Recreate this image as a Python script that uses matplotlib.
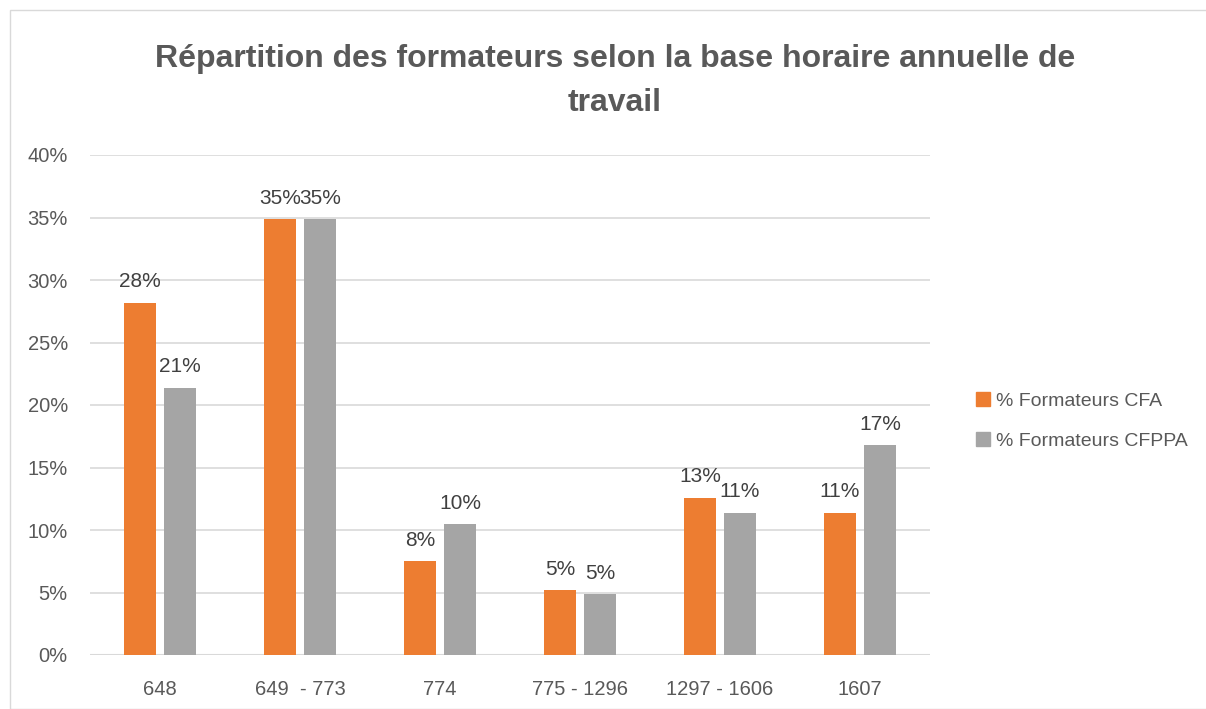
import matplotlib.pyplot as plt
import matplotlib.ticker as ticker
from matplotlib.patches import Rectangle, Patch
import numpy as np

categories = ["648", "649  - 773", "774", "775 - 1296", "1297 - 1606", "1607"]
cfa = [28.2, 34.9, 7.5, 5.2, 12.6, 11.4]
cfppa = [21.4, 34.9, 10.5, 4.9, 11.4, 16.8]
cfa_labels = ["28%", "35%", "8%", "5%", "13%", "11%"]
cfppa_labels = ["21%", "35%", "10%", "5%", "11%", "17%"]

ORANGE = "#ED7D31"
GRAY = "#A5A5A5"
TXT = "#595959"
FONT = "Liberation Sans"

fig = plt.figure(figsize=(12.06, 7.09), dpi=100)
fig.patches.append(Rectangle((10 / 1206, 0), 1.2, 1 - 10 / 709, transform=fig.transFigure,
                             fill=False, edgecolor="#D9D9D9", linewidth=1))
ax = fig.add_axes([90 / 1206, 1 - 655 / 709, 840 / 1206, 500 / 709])

x = np.arange(len(categories))
w = 0.23
off = 0.143
b1 = ax.bar(x - off, cfa, w, color=ORANGE, label="% Formateurs CFA", zorder=3)
b2 = ax.bar(x + off, cfppa, w, color=GRAY, label="% Formateurs CFPPA", zorder=3)

for bars, labs in ((b1, cfa_labels), (b2, cfppa_labels)):
    for r, lab in zip(bars, labs):
        ax.annotate(lab, (r.get_x() + r.get_width() / 2, r.get_height()),
                    xytext=(0, 8), textcoords="offset points", ha="center", va="bottom",
                    fontsize=15, color="#404040", family=FONT)

ax.set_xlim(-0.5, len(categories) - 0.5)
ax.set_ylim(0, 40)
ax.set_yticks(np.arange(0, 41, 5))
ax.yaxis.set_major_formatter(ticker.FuncFormatter(lambda v, p: "%d%%" % v))
ax.set_xticks(x)
ax.set_xticklabels(categories)
ax.grid(axis="y", color="#D9D9D9", linewidth=1.2, zorder=0)
for s in ax.spines.values():
    s.set_visible(False)
ax.axhline(0, color="#D9D9D9", linewidth=1.5, zorder=2)
ax.tick_params(length=0, labelsize=14.5, colors=TXT)
ax.tick_params(axis="x", pad=18)
ax.tick_params(axis="y", pad=16)
for t in ax.get_xticklabels() + ax.get_yticklabels():
    t.set_family(FONT)

fig.text(615 / 1206, 1 - 81 / 709,
         "Répartition des formateurs selon la base horaire annuelle de\ntravail",
         ha="center", va="center", fontsize=23, fontweight="bold", color=TXT,
         family=FONT, linespacing=1.65)

handles = [Patch(color=ORANGE), Patch(color=GRAY)]
fig.legend(handles, ["% Formateurs CFA", "% Formateurs CFPPA"], loc="center left",
           bbox_to_anchor=(958 / 1206, 1 - 421 / 709), frameon=False,
           prop={"family": FONT, "size": 14}, labelcolor=TXT,
           handlelength=0.75, handleheight=0.75, handletextpad=0.3, labelspacing=1.15)

plt.savefig("out.png", dpi=100)
